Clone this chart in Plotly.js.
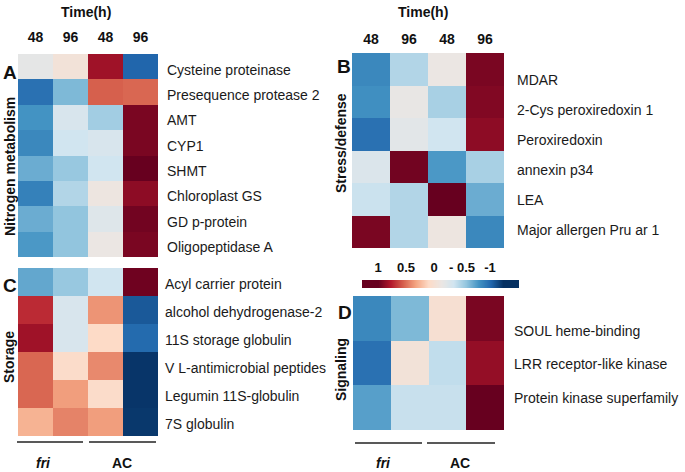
<!DOCTYPE html>
<html><head><meta charset="utf-8">
<script src="https://cdn.plot.ly/plotly-3.0.1.min.js"></script>
<style>html,body{margin:0;padding:0;background:#fff}#chart{width:685px;height:472px}</style>
</head><body><div id="chart"></div>
<script>
const timeLabels = ['48', '96', '48', '96'];
const groupLabels = ['fri', 'AC'];

const nitrogenGenes = ['Cysteine proteinase', 'Presequence protease 2', 'AMT', 'CYP1', 'SHMT',
  'Chloroplast GS', 'GD p-protein', 'Oligopeptidase A'];
const nitrogenValues = [
  [-0.05, 0.08, 0.85, -0.8],
  [-0.75, -0.45, 0.6, 0.58],
  [-0.6, -0.15, -0.35, 0.95],
  [-0.65, -0.2, -0.15, 0.95],
  [-0.5, -0.38, -0.2, 1.0],
  [-0.68, -0.3, 0.02, 0.9],
  [-0.5, -0.4, -0.1, 0.97],
  [-0.58, -0.4, 0.0, 0.95]
];

const stressGenes = ['MDAR', '2-Cys peroxiredoxin 1', 'Peroxiredoxin', 'annexin p34', 'LEA',
  'Major allergen Pru ar 1'];
const stressValues = [
  [-0.65, -0.3, 0.0, 0.95],
  [-0.62, -0.02, -0.33, 0.93],
  [-0.75, -0.07, -0.2, 0.9],
  [-0.12, 0.97, -0.58, -0.33],
  [-0.22, -0.3, 1.0, -0.5],
  [0.95, -0.3, 0.02, -0.65]
];

const storageGenes = ['Acyl carrier protein', 'alcohol dehydrogenase-2', '11S storage globulin',
  'V L-antimicrobial peptides', 'Legumin 11S-globulin', '7S globulin'];
const storageValues = [
  [-0.52, -0.38, -0.2, 0.98],
  [0.75, -0.15, 0.45, -0.85],
  [0.85, -0.15, 0.2, -0.78],
  [0.58, 0.18, 0.48, -0.98],
  [0.58, 0.42, 0.18, -0.98],
  [0.35, 0.5, 0.42, -0.97]
];

const signalingGenes = ['SOUL heme-binding', 'LRR receptor-like kinase', 'Protein kinase superfamily'];
const signalingValues = [
  [-0.65, -0.45, 0.12, 0.95],
  [-0.75, 0.08, -0.25, 0.88],
  [-0.55, -0.23, -0.23, 1.0]
];

const scaleTicks = [1, 0.5, 0, -0.5, -1];
const scaleTickText = ['1', '0.5', '0', '- 0.5', '-1'];

// ---------- styling ----------
const W = 685, H = 472;
const X = (a, b) => [a / W, b / W];
const Y = (top, bottom) => [1 - bottom / H, 1 - top / H];
const px = v => v / W;
const py = v => 1 - v / H;
const FONT = 'Liberation Sans, Arial, sans-serif';
const rdbu = [
  [0.0, '#053061'], [0.1, '#2166ac'], [0.2, '#4393c3'], [0.3, '#92c5de'], [0.4, '#d1e5f0'],
  [0.5, '#ebe6e3'], [0.6, '#fddbc7'], [0.7, '#f4a582'], [0.8, '#d6604d'], [0.9, '#b2182b'],
  [1.0, '#67001f']
];
const idx = arr => arr.map((_, i) => i);
const cols = idx(timeLabels);

function hm(z, xa, ya) {
  return {type: 'heatmap', z: z, x: cols, y: idx(z), xaxis: xa, yaxis: ya,
    colorscale: rdbu, zmin: -1, zmax: 1, showscale: false, hoverinfo: 'skip'};
}
// empty helper traces so that the label-only overlay axes get drawn
function holder(xa, ya) {
  return {type: 'scatter', x: [], y: [], xaxis: xa, yaxis: ya, mode: 'markers', hoverinfo: 'skip'};
}

const traces = [
  hm(nitrogenValues, 'x', 'y'),
  hm(stressValues, 'x2', 'y2'),
  hm(storageValues, 'x3', 'y3'),
  hm(signalingValues, 'x4', 'y4'),
  {type: 'heatmap', z: [scaleTicks], x: scaleTicks, y: [0], xaxis: 'x7', yaxis: 'y7',
    colorscale: rdbu, zmin: -1, zmax: 1, showscale: false, zsmooth: 'best', hoverinfo: 'skip'},
  holder('x2', 'y5'),
  holder('x4', 'y6'),
  holder('x8', 'y7')
];

const base = {showgrid: false, zeroline: false, showline: false, ticks: '', fixedrange: true};
const topX = (dom, anchor, standoff) => Object.assign({}, base, {
  domain: dom, anchor: anchor, side: 'top', range: [-0.5, 3.5], tickmode: 'array',
  tickvals: cols, ticktext: timeLabels, ticklabelstandoff: standoff,
  tickfont: {family: FONT, size: 14, color: '#111', weight: 'bold'}
});
const plainX = (dom, anchor) => Object.assign({}, base, {domain: dom, anchor: anchor,
  range: [-0.5, 3.5], showticklabels: false});
const labY = (dom, anchor, rng, genes, standoff, shift) => {
  const a = Object.assign({}, base, {
    anchor: anchor, side: 'right', range: rng, tickmode: 'array',
    tickvals: idx(genes), ticktext: genes, ticklabelstandoff: standoff, ticklabelshift: shift || 0,
    tickfont: {family: FONT, size: 14, color: '#1a1a1a'}
  });
  if (dom) a.domain = dom;
  return a;
};

const layout = {
  width: W, height: H,
  margin: {l: 0, r: 0, t: 0, b: 0},
  paper_bgcolor: '#fff', plot_bgcolor: 'rgba(0,0,0,0)',
  showlegend: false,
  font: {family: FONT},
  xaxis: topX(X(18, 158), 'y', 8),
  yaxis: labY(Y(54, 257), 'x', [7.5, -0.5], nitrogenGenes, 8, -3),
  xaxis2: topX(X(352, 504), 'y2', 5),
  yaxis2: Object.assign({}, base, {domain: Y(53, 248), anchor: 'x2', range: [5.5, -0.5], showticklabels: false}),
  yaxis5: Object.assign(labY(null, 'x2', [5.6, -0.9], stressGenes, 12), {overlaying: 'y2'}),
  xaxis3: plainX(X(18, 158), 'y3'),
  yaxis3: labY(Y(268, 436), 'x3', [5.5, -0.5], storageGenes, 6, -2),
  xaxis4: plainX(X(353, 504), 'y4'),
  yaxis4: Object.assign({}, base, {domain: Y(296, 430), anchor: 'x4', range: [2.5, -0.5], showticklabels: false}),
  yaxis6: Object.assign(labY(null, 'x4', [2.96, -1.04], signalingGenes, 9), {overlaying: 'y4'}),
  xaxis7: Object.assign({}, base, {domain: X(362, 519), anchor: 'y7', range: [1.25, -1.25], showticklabels: false}),
  yaxis7: Object.assign({}, base, {domain: Y(280, 288), anchor: 'x7', range: [-0.5, 0.5], showticklabels: false}),
  xaxis8: Object.assign({}, base, {overlaying: 'x7', anchor: 'y7', side: 'top', range: [1.286, -1.518],
    tickmode: 'array', tickvals: scaleTicks, ticktext: scaleTickText, ticklabelstandoff: 4,
    tickfont: {family: FONT, size: 13, color: '#111', weight: 'bold'}}),
  annotations: [],
  shapes: []
};

function ann(text, x, y, opts) {
  layout.annotations.push(Object.assign({text: text, x: px(x), y: py(y), xref: 'paper', yref: 'paper',
    showarrow: false, xanchor: 'center', yanchor: 'middle',
    font: {family: FONT, size: 14, color: '#111', weight: 'bold'}}, opts || {}));
}
const letterFont = {family: FONT, size: 19, color: '#111', weight: 'bold'};
ann('Time(h)', 86, 12);
ann('Time(h)', 423, 12);
ann('A', 10, 72, {font: letterFont});
ann('B', 344, 67, {font: letterFont});
ann('C', 10, 285, {font: letterFont});
ann('D', 345, 312, {font: letterFont});
ann('Nitrogen metabolism', 10, 167, {textangle: -90});
ann('Stress/defense', 341, 143, {textangle: -90});
ann('Storage', 9, 357, {textangle: -90});
ann('Signaling', 341, 370, {textangle: -90});
ann('<i>' + groupLabels[0] + '</i>', 43, 463);
ann(groupLabels[1], 122, 463);
ann('<i>' + groupLabels[0] + '</i>', 383, 463);
ann(groupLabels[1], 460, 463);

function hline(x0, x1, y) {
  layout.shapes.push({type: 'line', xref: 'paper', yref: 'paper', x0: px(x0), x1: px(x1),
    y0: py(y), y1: py(y), line: {color: '#222', width: 1.5}});
}
hline(17, 83, 442); hline(89, 156, 442);
hline(355, 422, 443); hline(427, 495, 443);

Plotly.newPlot('chart', traces, layout, {displayModeBar: false, staticPlot: true});
</script>
</body></html>
